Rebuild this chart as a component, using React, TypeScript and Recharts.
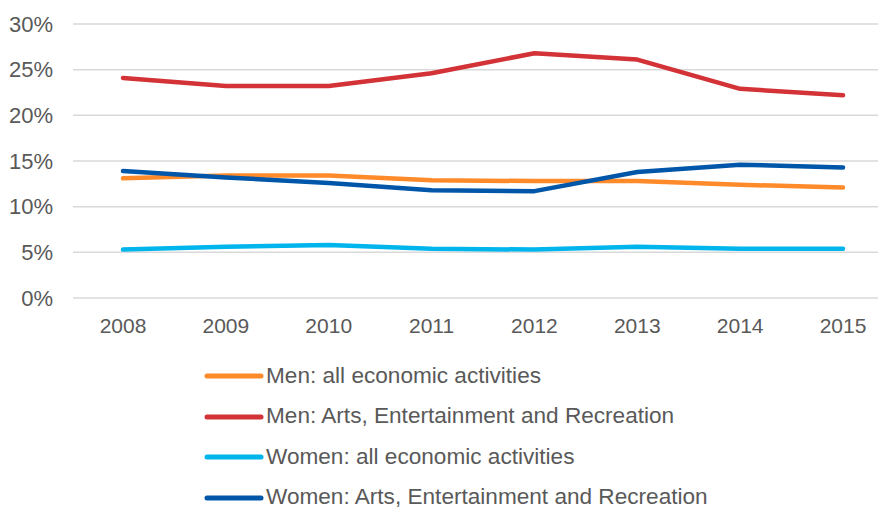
import React from "react";
import {
  LineChart,
  Line,
  XAxis,
  YAxis,
  CartesianGrid,
  Legend,
} from "recharts";

const years = ["2008", "2009", "2010", "2011", "2012", "2013", "2014", "2015"];
const menAll = [13.1, 13.4, 13.4, 12.9, 12.8, 12.8, 12.4, 12.1];
const menArts = [24.1, 23.2, 23.2, 24.6, 26.8, 26.1, 22.9, 22.2];
const womenAll = [5.3, 5.6, 5.8, 5.4, 5.3, 5.6, 5.4, 5.4];
const womenArts = [13.9, 13.2, 12.6, 11.8, 11.7, 13.8, 14.6, 14.3];
const yTicks = [0, 5, 10, 15, 20, 25, 30];

const series = [
  { key: "menAll", name: "Men: all economic activities", color: "#FF8A2A" },
  { key: "menArts", name: "Men: Arts, Entertainment and Recreation", color: "#D33236" },
  { key: "womenAll", name: "Women: all economic activities", color: "#00B4EC" },
  { key: "womenArts", name: "Women: Arts, Entertainment and Recreation", color: "#0056A8" },
];

const chartData = years.map((year, i) => ({
  year,
  menAll: menAll[i],
  menArts: menArts[i],
  womenAll: womenAll[i],
  womenArts: womenArts[i],
}));

const FONT = '"Liberation Sans", Arial, sans-serif';
const TEXT = "#595959";

// legend drawn as a stacked list under the axis, kept in series order
const StackedLegend = ({ payload }: any) => {
  const items = [...(payload || [])].sort(
    (a: any, b: any) =>
      series.findIndex((s) => s.name === a.value) -
      series.findIndex((s) => s.name === b.value)
  );
  return (
    <div style={{ fontFamily: FONT }}>
      {items.map((entry: any) => (
        <div
          key={entry.value}
          style={{ display: "flex", alignItems: "center", height: 40.5 }}
        >
          <svg width={62} height={10} style={{ display: "block" }}>
            <line
              x1={3}
              y1={5}
              x2={57}
              y2={5}
              stroke={entry.color}
              strokeWidth={5}
              strokeLinecap="round"
            />
          </svg>
          <span
            style={{
              fontSize: 22.6,
              lineHeight: 1,
              color: TEXT,
              whiteSpace: "nowrap",
            }}
          >
            {entry.value}
          </span>
        </div>
      ))}
    </div>
  );
};

export default function App() {
  return (
    <LineChart
      width={878}
      height={500}
      data={chartData}
      margin={{ top: 16, right: 0, left: 0, bottom: 170 }}
      style={{ fontFamily: FONT }}
    >
      <CartesianGrid vertical={false} stroke="#D9D9D9" strokeWidth={1.5} />
      <XAxis
        dataKey="year"
        axisLine={false}
        tickLine={false}
        tickMargin={14}
        height={40}
        padding={{ left: 50, right: 43 }}
        tick={{ fontSize: 21, fill: TEXT }}
      />
      <YAxis
        domain={[0, 30]}
        ticks={yTicks}
        width={65}
        axisLine={false}
        tickLine={false}
        tickMargin={14}
        tick={{ fontSize: 22, fill: TEXT }}
        tickFormatter={(v) => `${v}%`}
      />
      <Legend
        layout="horizontal"
        verticalAlign="middle"
        align="center"
        wrapperStyle={{ top: 348, left: 196, width: 600, height: 162 }}
        content={<StackedLegend />}
      />
      {series.map((s) => (
        <Line
          key={s.key}
          type="linear"
          dataKey={s.key}
          name={s.name}
          stroke={s.color}
          strokeWidth={4.5}
          strokeLinecap="round"
          strokeLinejoin="round"
          dot={false}
          activeDot={false}
          isAnimationActive={false}
        />
      ))}
    </LineChart>
  );
}
